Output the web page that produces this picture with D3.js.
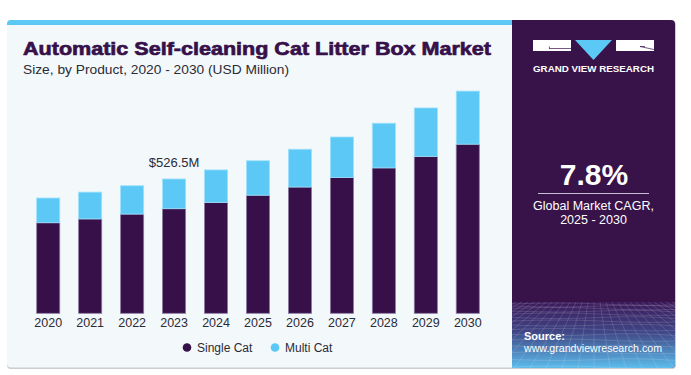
<!DOCTYPE html>
<html><head><meta charset="utf-8">
<script src="https://cdn.jsdelivr.net/npm/d3@7"></script>
<style>html,body{margin:0;padding:0;background:#fff;}svg{display:block;font-family:"Liberation Sans",Arial,sans-serif;}</style>
</head><body><svg id="c" width="691" height="375"></svg>
<script>
const years = ["2020","2021","2022","2023","2024","2025","2026","2027","2028","2029","2030"];
const singleCat = [355, 370, 389, 410, 434, 463, 495, 532, 570, 615, 663];
const multiCat  = [97, 105, 111, 116.5, 128, 135, 148, 159, 175, 190, 208];
const seriesNames = ["Single Cat", "Multi Cat"];
const colors = ["#37104a", "#5bc8f5"];
const annotation = {year: "2023", label: "$526.5M"};

const svg = d3.select("#c");
const defs = svg.append("defs");

// card
svg.append("rect").attr("x",7).attr("y",21).attr("width",669).attr("height",348).attr("rx",4).attr("fill","#c9ccd0");
svg.append("rect").attr("x",7).attr("y",20).attr("width",668).attr("height",347.5).attr("rx",4).attr("fill","#f3f8fb");
// top blue strip
svg.append("path").attr("d","M7,25 V24 Q7,20 11,20 H512 V25 Z").attr("fill","#5bc8f5");

// right panel
const grad = defs.append("linearGradient").attr("id","pg").attr("x1",0).attr("y1",0).attr("x2",0).attr("y2",1);
grad.append("stop").attr("offset","0").attr("stop-color","#3b1a5a");
grad.append("stop").attr("offset","0.45").attr("stop-color","#3f4585");
grad.append("stop").attr("offset","1").attr("stop-color","#5cbcec");
defs.append("clipPath").attr("id","pc").append("path").attr("d","M512,20 H671 Q675,20 675,24 V364 Q675,368 671,368 H512 Z");
const panel = svg.append("g").attr("clip-path","url(#pc)");
panel.append("rect").attr("x",512).attr("y",20).attr("width",163).attr("height",348).attr("fill","#38134a");
panel.append("rect").attr("x",512).attr("y",302).attr("width",163).attr("height",66).attr("fill","url(#pg)");
// mesh pattern
const mesh = panel.append("g").attr("stroke","#ffffff").attr("stroke-opacity",0.2).attr("stroke-width",0.7).attr("fill","none");
const hy = [304,306,308.5,311,314,317.5,321,325,329.5,334.5,340,346,352.5,359.5,367];
hy.forEach((yy,i)=>{mesh.append("path").attr("d",`M512,${yy} Q560,${yy+(i%2?2:-2)} 600,${yy} T675,${yy+1}`);});
for(let k=-22;k<=22;k++){
  const xt = 594 + k*6, xb = 594 + k*16;
  mesh.append("line").attr("x1",xt).attr("y1",302).attr("x2",xb).attr("y2",368);
}

// logo
const lg = svg.append("g");
lg.append("rect").attr("x",533).attr("y",40).attr("width",38).attr("height",11).style("fill","#ffffff");
lg.append("path").attr("d","M549,48.5 H571 M549.4,48.5 V46.5").attr("fill","none").attr("stroke","#38134a").attr("stroke-width",0.7);
lg.append("path").attr("d","M575,40 H612 L593.5,60 Z").style("fill","#5bc8f5");
lg.append("rect").attr("x",616).attr("y",40).attr("width",38).attr("height",11).style("fill","#ffffff");
lg.append("path").attr("d","M640,46.5 L654,49.5 M640,46.5 H645").attr("fill","none").attr("stroke","#38134a").attr("stroke-width",0.7);
lg.append("text").attr("x",533).attr("y",71.5).attr("textLength",121).attr("lengthAdjust","spacingAndGlyphs")
  .attr("font-size",9).attr("font-weight","bold").attr("fill","#fff").text("GRAND VIEW RESEARCH");

// CAGR
svg.append("text").attr("x",594).attr("y",185).attr("text-anchor","middle").attr("font-size",30).attr("font-weight","bold").attr("fill","#fff").text("7.8%");
svg.append("line").attr("x1",538).attr("x2",649).attr("y1",193.5).attr("y2",193.5).attr("stroke","#c9bcd6").attr("stroke-width",1);
svg.append("text").attr("x",593.5).attr("y",209.5).attr("text-anchor","middle").attr("font-size",12.5).attr("fill","#fff").text("Global Market CAGR,");
svg.append("text").attr("x",593.5).attr("y",224).attr("text-anchor","middle").attr("font-size",12.5).attr("fill","#fff").text("2025 - 2030");

// source
svg.append("text").attr("x",524).attr("y",339.5).attr("font-size",11).attr("font-weight","bold").attr("fill","#fff").text("Source:");
svg.append("text").attr("x",524).attr("y",352).attr("font-size",10.5).attr("fill","#fff").attr("textLength",138).attr("lengthAdjust","spacingAndGlyphs").text("www.grandviewresearch.com");

// titles
svg.append("text").attr("x",23).attr("y",55).attr("font-size",19).attr("font-weight","900").attr("fill","#37104a")
  .attr("stroke","#37104a").attr("stroke-width",0.7).attr("textLength",468).attr("lengthAdjust","spacingAndGlyphs")
  .text("Automatic Self-cleaning Cat Litter Box Market");
svg.append("text").attr("x",23).attr("y",73.5).attr("font-size",13).attr("fill","#2b2b35").attr("textLength",266).attr("lengthAdjust","spacingAndGlyphs")
  .text("Size, by Product, 2020 - 2030 (USD Million)");

// chart
const x = d3.scaleBand().domain(years).range([17.8, 498.2]).paddingInner(0.45).paddingOuter(0.45);
const y = d3.scaleLinear().domain([0, 1000]).range([313.3, 58.2]);

const data = years.map((yr,i)=>({year:yr, "Single Cat":singleCat[i], "Multi Cat":multiCat[i]}));
const stacked = d3.stack().keys(seriesNames)(data);

const g = svg.append("g");
g.selectAll("g.s").data(stacked).join("g").attr("fill",(d,i)=>colors[i])
  .attr("stroke",(d,i)=> i===0 ? "#8a7aa0" : "#9fe0fb").attr("stroke-width",0.8)
  .selectAll("rect").data(d=>d).join("rect")
  .attr("x",d=>x(d.data.year)).attr("width",x.bandwidth())
  .attr("y",d=>y(d[1])).attr("height",d=>y(d[0])-y(d[1]));

const ax = svg.append("g").attr("transform",`translate(0,${y(0)})`)
  .call(d3.axisBottom(x).tickSize(0).tickPadding(5));
ax.select(".domain").remove();
ax.selectAll("text").attr("font-size",12.5).attr("fill","#2b2b35").attr("font-family","Liberation Sans, Arial, sans-serif");

const ai = years.indexOf(annotation.year);
svg.append("text").attr("x",x(annotation.year)+x.bandwidth()/2).attr("y",y(singleCat[ai]+multiCat[ai])-12)
  .attr("text-anchor","middle").attr("font-size",13).attr("fill","#2b2b35").text(annotation.label);

// legend
const leg = svg.append("g");
const lx = [187, 275];
seriesNames.forEach((n,i)=>{
  leg.append("circle").attr("cx",lx[i]).attr("cy",347.5).attr("r",4.3).attr("fill",colors[i]);
  leg.append("text").attr("x",lx[i]+10).attr("y",351.5).attr("font-size",12).attr("fill","#2b2b35").text(n);
});
</script></body></html>
